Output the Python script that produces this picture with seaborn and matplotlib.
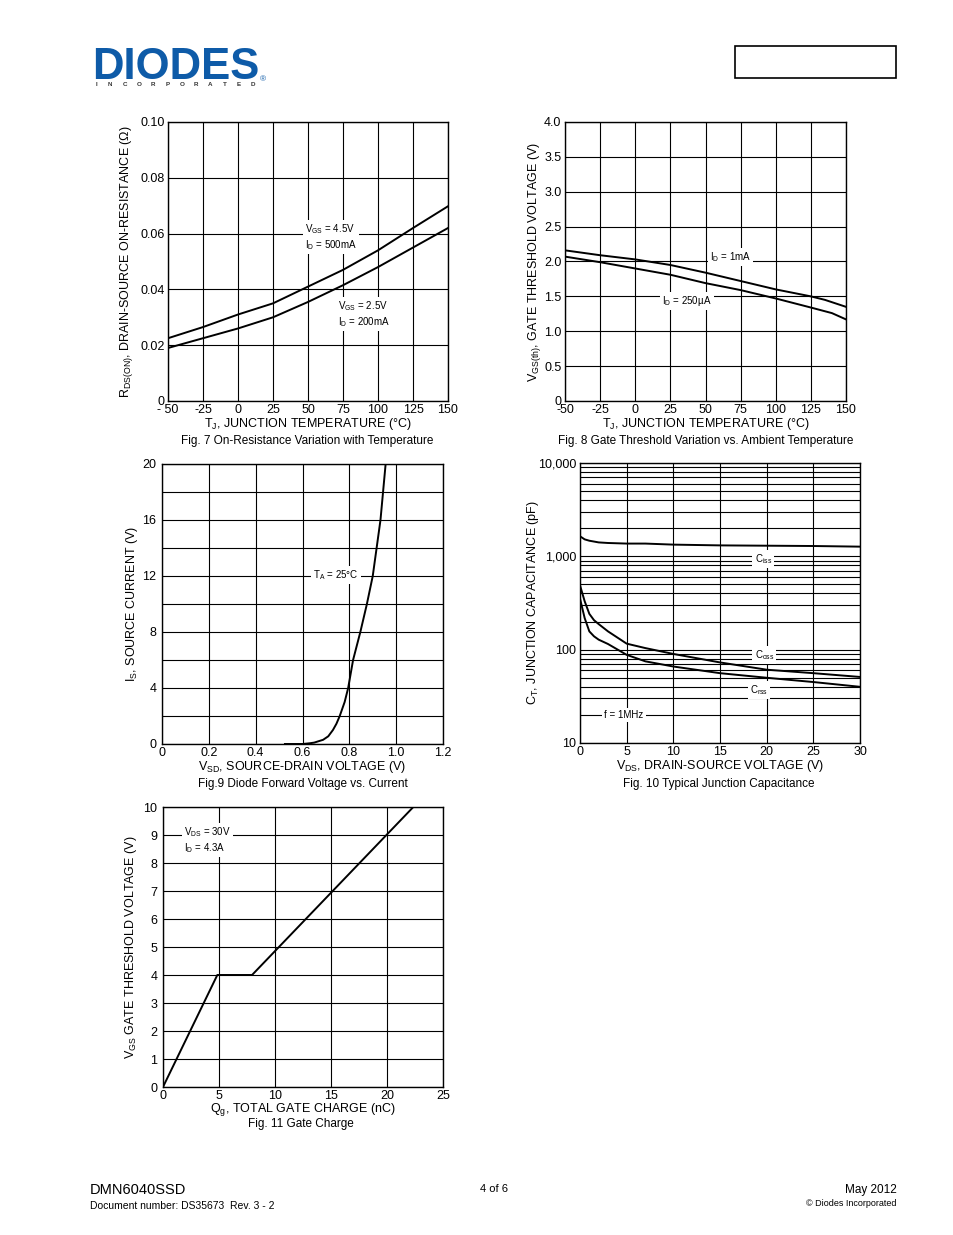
import numpy as np
import matplotlib
matplotlib.use('Agg')
import matplotlib.pyplot as plt
import seaborn as sns
from matplotlib.patches import Rectangle
from matplotlib.lines import Line2D

# Fig. 7 resistencia x temperatura
temp7 = [-50, -25, 0, 25, 50, 75, 100, 125, 150]
rds_45v = [0.0225, 0.0265, 0.031, 0.035, 0.041, 0.047, 0.054, 0.062, 0.0698]
rds_25v = [0.019, 0.0225, 0.026, 0.030, 0.0355, 0.0415, 0.048, 0.055, 0.062]

# Fig. 8 tensao de limiar x temperatura
temp8 = [-50, -25, 0, 25, 50, 75, 100, 125, 135, 150]
vth_1ma = [2.16, 2.09, 2.03, 1.95, 1.84, 1.72, 1.60, 1.50, 1.45, 1.35]
temp8b = [-50, -25, 0, 25, 50, 75, 100, 125, 140, 150]
vth_250ua = [2.07, 1.99, 1.90, 1.81, 1.69, 1.59, 1.47, 1.34, 1.26, 1.17]

# Fig. 9 diodo
vsd = [0.525, 0.60, 0.63, 0.65, 0.688, 0.71, 0.73, 0.745, 0.759, 0.78, 0.795, 0.816, 0.847, 0.875, 0.90, 0.933, 0.955]
i_s = [0.0, 0.0, 0.05, 0.1, 0.3, 0.55, 1.0, 1.45, 2.0, 3.0, 4.0, 6.0, 8.0, 10.0, 12.0, 16.0, 20.0]

# Fig. 10 capacitancia
vds = [0, 0.5, 1, 1.5, 2, 3, 5, 7, 10, 15, 20, 25, 30]
ciss = [1640, 1520, 1470, 1440, 1410, 1390, 1370, 1370, 1335, 1310, 1300, 1290, 1270]
coss = [489, 330, 242, 207, 188, 157, 116, 104, 90, 73, 61, 56, 51]
crss = [352, 218, 157, 139, 128, 115, 88, 75, 66, 56, 50, 45, 40]

# Fig. 11 carga de gate
qg = [0, 4.85, 7.95, 22.35]
vgs = [0, 4, 4, 10]

plt.rcParams['font.family'] = ['Liberation Sans', 'DejaVu Sans']
plt.rcParams['mathtext.default'] = 'regular'
plt.rcParams['axes.unicode_minus'] = False

W, H = 954, 1235
fig = plt.figure(figsize=(W / 100, H / 100), dpi=100)


def caixa(l, t, r, b):
    return [l / W, 1 - b / H, (r - l) / W, (b - t) / H]


def estilo(ax):
    for s in ax.spines.values():
        s.set_color('black')
        s.set_linewidth(1)
    ax.tick_params(which='both', length=0, labelsize=9, pad=2.5, colors='black')
    ax.grid(True, which='both', color='black', lw=0.8)
    ax.set_axisbelow(True)


def rotulo(ax, x, y, txt):
    ax.text(x, y, txt, fontsize=7, va='center', ha='left', zorder=5,
            bbox=dict(facecolor='white', edgecolor='none', pad=1.5))


def legenda(x, y, txt):
    fig.text(x / W, 1 - y / H, txt, fontsize=8.5, ha='center', va='center')


# logo
azul = '#0e5ba8'
fig.text(92 / W, 1 - 79 / H, 'DIODES', fontsize=31.5, fontweight='bold',
         color=azul, ha='left', va='baseline')
fig.text(260 / W, 1 - 81 / H, '®', fontsize=6, color=azul, ha='left', va='baseline')
fig.lines.append(Line2D([89 / W, 143 / W], [1 - 61 / H, 1 - 61 / H], color='white', lw=1.5,
                        transform=fig.transFigure))
for k, letra in enumerate('INCORPORATED'):
    fig.text((96 + k * 14.3) / W, 1 - 85 / H, letra, fontsize=4.5, fontweight='bold',
             color='#333333', ha='center', va='center')
fig.patches.append(Rectangle((735 / W, 1 - 78 / H), 161 / W, 32 / H, fill=False,
                             edgecolor='black', lw=1.2, transform=fig.transFigure))

# Fig. 7
ax7 = fig.add_axes(caixa(168, 122, 448, 401))
estilo(ax7)
sns.lineplot(x=temp7, y=rds_45v, ax=ax7, color='black', lw=1.4)
sns.lineplot(x=temp7, y=rds_25v, ax=ax7, color='black', lw=1.4)
ax7.set_xlim(-50, 150)
ax7.set_ylim(0, 0.1)
ax7.set_xticks(range(-50, 151, 25))
ax7.set_xticklabels(['- 50', '-25', '0', '25', '50', '75', '100', '125', '150'])
ax7.set_yticks([0, 0.02, 0.04, 0.06, 0.08, 0.10])
ax7.set_yticklabels(['0', '0.02', '0.04', '0.06', '0.08', '0.10'])
ax7.set_xlabel('T$_J$, JUNCTION TEMPERATURE (°C)', fontsize=9, labelpad=0)
ax7.set_ylabel('R$_{DS(ON)}$, DRAIN-SOURCE ON-RESISTANCE (Ω)', fontsize=9, labelpad=4)
rotulo(ax7, 48, 0.0588, 'V$_{GS}$ = 4.5V\nI$_D$ = 500mA')
rotulo(ax7, 71.5, 0.0312, 'V$_{GS}$ = 2.5V\nI$_D$ = 200mA')
legenda(307, 441, 'Fig. 7 On-Resistance Variation with Temperature')

# Fig. 8
ax8 = fig.add_axes(caixa(565, 122, 846, 401))
estilo(ax8)
sns.lineplot(x=temp8, y=vth_1ma, ax=ax8, color='black', lw=1.4)
sns.lineplot(x=temp8b, y=vth_250ua, ax=ax8, color='black', lw=1.4)
ax8.set_xlim(-50, 150)
ax8.set_ylim(0, 4)
ax8.set_xticks(range(-50, 151, 25))
ax8.set_yticks(np.arange(0, 4.01, 0.5))
ax8.set_yticklabels(['0', '0.5', '1.0', '1.5', '2.0', '2.5', '3.0', '3.5', '4.0'])
ax8.set_xlabel('T$_J$, JUNCTION TEMPERATURE (°C)', fontsize=9, labelpad=0)
ax8.set_ylabel('V$_{GS(th)}$, GATE THRESHOLD VOLTAGE (V)', fontsize=9, labelpad=1)
rotulo(ax8, 53, 2.06, 'I$_D$ = 1mA')
rotulo(ax8, 19, 1.43, 'I$_D$ = 250µA')
legenda(706, 441, 'Fig. 8 Gate Threshold Variation vs. Ambient Temperature')

# Fig. 9
ax9 = fig.add_axes(caixa(162, 464, 443, 744))
estilo(ax9)
sns.lineplot(x=vsd, y=i_s, ax=ax9, color='black', lw=1.4)
ax9.set_xlim(0, 1.2)
ax9.set_ylim(0, 20)
ax9.set_xticks(np.arange(0, 1.21, 0.2))
ax9.set_xticklabels(['0', '0.2', '0.4', '0.6', '0.8', '1.0', '1.2'])
ax9.set_yticks(range(0, 21, 4))
ax9.set_yticks(range(2, 20, 4), minor=True)
ax9.tick_params(axis='y', pad=4)
ax9.set_xlabel('V$_{SD}$, SOURCE-DRAIN VOLTAGE (V)', fontsize=9, labelpad=0)
ax9.set_ylabel('I$_S$, SOURCE CURRENT (V)', fontsize=9, labelpad=2)
rotulo(ax9, 0.645, 12.1, 'T$_A$ = 25°C')
legenda(303, 784, 'Fig.9 Diode Forward Voltage vs. Current')

# Fig. 10
ax10 = fig.add_axes(caixa(580, 463, 860, 743))
estilo(ax10)
sns.lineplot(x=vds, y=ciss, ax=ax10, color='black', lw=1.4)
sns.lineplot(x=vds, y=coss, ax=ax10, color='black', lw=1.4)
sns.lineplot(x=vds, y=crss, ax=ax10, color='black', lw=1.4)
ax10.set_yscale('log')
ax10.set_xlim(0, 30)
ax10.set_ylim(10, 10000)
ax10.set_xticks(range(0, 31, 5))
ax10.set_yticks([10, 100, 1000, 10000])
ax10.set_yticklabels(['10', '100', '1,000', '10,000'])
ax10.tick_params(axis='y', which='minor', labelleft=False)
ax10.set_xlabel('V$_{DS}$, DRAIN-SOURCE VOLTAGE (V)', fontsize=9, labelpad=0)
ax10.set_ylabel('C$_T$, JUNCTION CAPACITANCE (pF)', fontsize=9, labelpad=-2)
rotulo(ax10, 18.7, 935, 'C$_{iss}$')
rotulo(ax10, 18.7, 88, 'C$_{oss}$')
rotulo(ax10, 18.2, 37, 'C$_{rss}$')
rotulo(ax10, 2.6, 20, 'f = 1MHz')
legenda(719, 784, 'Fig. 10 Typical Junction Capacitance')

# Fig. 11
ax11 = fig.add_axes(caixa(163, 807, 443, 1087))
estilo(ax11)
sns.lineplot(x=qg, y=vgs, ax=ax11, color='black', lw=1.4)
ax11.set_xlim(0, 25)
ax11.set_ylim(0, 10)
ax11.set_xticks(range(0, 26, 5))
ax11.set_yticks(range(0, 11))
ax11.tick_params(axis='y', pad=4)
ax11.set_xlabel('Q$_g$, TOTAL GATE CHARGE (nC)', fontsize=9, labelpad=-1)
ax11.set_ylabel('V$_{GS}$ GATE THRESHOLD VOLTAGE (V)', fontsize=9, labelpad=3)
rotulo(ax11, 1.9, 8.82, 'V$_{DS}$ = 30V\nI$_D$ = 4.3A')
legenda(301, 1124, 'Fig. 11 Gate Charge')

# rodape
fig.text(90 / W, 1 - 1190 / H, 'DMN6040SSD', fontsize=10.5, ha='left', va='center')
fig.text(90 / W, 1 - 1206 / H, 'Document number: DS35673  Rev. 3 - 2', fontsize=7.5,
         ha='left', va='center')
fig.text(494 / W, 1 - 1189 / H, '4 of 6', fontsize=8, ha='center', va='center')
fig.text(897 / W, 1 - 1190 / H, 'May 2012', fontsize=8.5, ha='right', va='center')
fig.text(897 / W, 1 - 1204 / H, '© Diodes Incorporated', fontsize=6.5, ha='right', va='center')

fig.savefig('out.png', dpi=100)
